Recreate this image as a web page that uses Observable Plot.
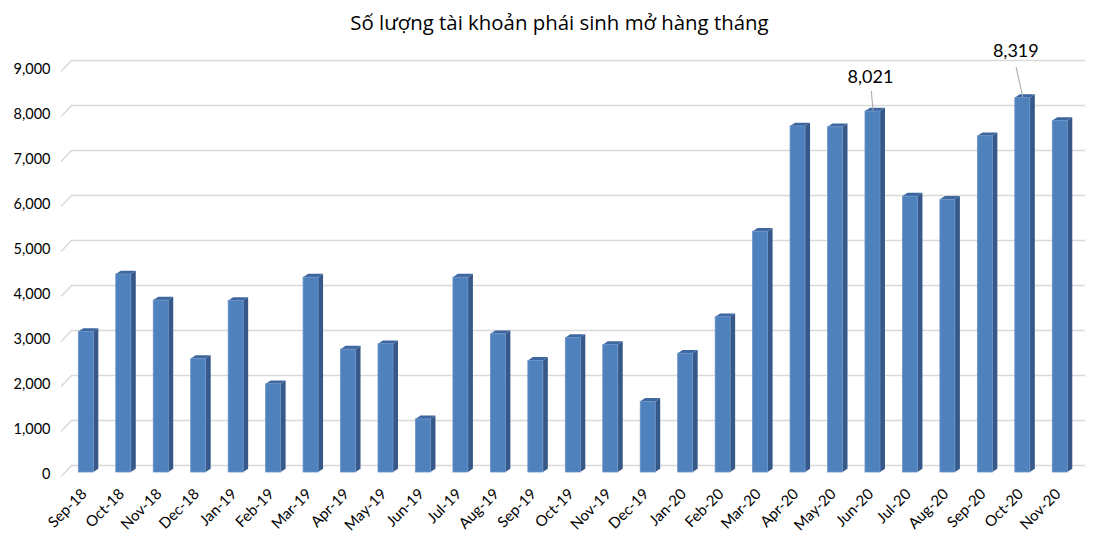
<!DOCTYPE html>
<html>
<head>
<meta charset="utf-8">
<script src="https://cdn.jsdelivr.net/npm/d3@7"></script>
<script src="https://cdn.jsdelivr.net/npm/@observablehq/plot@0.6"></script>
<style>
  html, body { margin: 0; padding: 0; background: #fff; }
  #wrap { width: 1119px; }
  #title { height: 34px; line-height: 44px; text-align: center; font-family: "Open Sans", sans-serif; font-size: 20.4px; color: #000; overflow: visible; white-space: nowrap; }
  svg { display: block; }
</style>
</head>
<body>
<div id="wrap">
  <div id="title">Số lượng tài khoản phái sinh mở hàng tháng</div>
  <div id="chart"></div>
</div>
<script>
const months = ["Sep-18","Oct-18","Nov-18","Dec-18","Jan-19","Feb-19","Mar-19","Apr-19","May-19","Jun-19","Jul-19","Aug-19","Sep-19","Oct-19","Nov-19","Dec-19","Jan-20","Feb-20","Mar-20","Apr-20","May-20","Jun-20","Jul-20","Aug-20","Sep-20","Oct-20","Nov-20"];
const accounts = [3120,4400,3820,2520,3810,1960,4330,2730,2850,1180,4330,3070,2480,2990,2830,1570,2640,3450,5350,7690,7670,8021,6130,6060,7470,8319,7810];
const yTicks = [0,1000,2000,3000,4000,5000,6000,7000,8000,9000];
const labelled = ["Jun-20","Oct-20"];

const data = months.map((m, i) => ({i, month: m, value: accounts[i]}));
const notes = data.filter(d => labelled.includes(d.month));

const HALF = 0.2;          // half bar width in band units
const DEPTH_X = 5;         // px, 3D depth to the right
const DEPTH_Y = 3.3;       // px, 3D depth upward
const skewSide = -Math.atan(DEPTH_Y / DEPTH_X) * 180 / Math.PI;
const skewTop = -Math.atan(DEPTH_X / DEPTH_Y) * 180 / Math.PI;

const lineShape = { draw(ctx, l) { ctx.moveTo(0, 0); ctx.lineTo(0, -l); } };

function skewRectsY(index, scales, values, dims, ctx, next) {
  const g = next(index, scales, values, dims, ctx);
  d3.select(g).selectAll("rect").each(function () {
    const x = +this.getAttribute("x");
    this.setAttribute("transform", `translate(${x},0) skewY(${skewSide}) translate(${-x},0)`);
  });
  return g;
}
function skewRectsX(index, scales, values, dims, ctx, next) {
  const g = next(index, scales, values, dims, ctx);
  d3.select(g).selectAll("rect").each(function () {
    const y = +this.getAttribute("y") + +this.getAttribute("height");
    this.setAttribute("transform", `translate(0,${y}) skewX(${skewTop}) translate(0,${-y})`);
  });
  return g;
}

const bw = 1026.4 / 27.4; // px per band unit

const chart = Plot.plot({
  width: 1119,
  height: 518,
  marginLeft: 59.6,
  marginRight: 33,
  marginTop: 33,
  marginBottom: 80,
  style: { fontFamily: "Lato, sans-serif", fontSize: "13px", color: "#000", background: "#fff" },
  x: { type: "linear", domain: [-0.7, 26.7], axis: null },
  y: { domain: [0, 9000], axis: null },
  length: { type: "identity" },
  marks: [
    // back-wall gridlines
    Plot.ruleY(yTicks, { x1: -0.395, x2: 26.67, dy: -7, stroke: "#d9d9d9", strokeWidth: 1.5 }),
    // floor-edge diagonals
    Plot.vector(yTicks, { x: -0.395, y: d => d, dy: -7, length: 14.5, rotate: 223.6, anchor: "start", shape: lineShape, stroke: "#d9d9d9", strokeWidth: 1.5 }),
    // side faces
    Plot.rect(data, { x1: d => d.i + HALF, x2: d => d.i + HALF + DEPTH_X / bw, y1: 0, y2: "value", fill: "#36598a", render: skewRectsY }),
    // top faces
    Plot.rect(data, { x1: d => d.i - HALF, x2: d => d.i + HALF, y1: "value", y2: "value", insetTop: -DEPTH_Y, fill: "#3d679e", render: skewRectsX }),
    // front faces
    Plot.rect(data, { x1: d => d.i - HALF, x2: d => d.i + HALF, y1: 0, y2: "value", fill: "#4f81bd", stroke: "#6a93c8", strokeWidth: 0.8 }),
    // y axis labels
    Plot.axisY({ ticks: yTicks, tickSize: 0, tickPadding: 9.6, dy: 1.5, tickFormat: d3.format(","), fontSize: 14.5, fill: "#000", label: null }),
    // x axis labels
    Plot.axisX({ ticks: d3.range(months.length), tickFormat: i => months[i], tickRotate: -45, tickSize: 0, tickPadding: 10, dx: -2, dy: 9, fontSize: 15, fill: "#000", label: null }),
    // annotation leader lines
    Plot.vector(notes, { x: "i", y: "value", dy: -1, length: d => d.month === "Jun-20" ? 19.4 : 30.7, rotate: d => d.month === "Jun-20" ? -4.7 : -12.6, anchor: "start", shape: lineShape, stroke: "#a6a6a6", strokeWidth: 1 }),
    // annotation labels
    Plot.text(notes.filter(d => d.month === "Jun-20"), { x: "i", y: "value", text: d => d3.format(",")(d.value), dx: -2.5, dy: -29, fontSize: 18, fill: "#000", lineAnchor: "bottom" }),
    Plot.text(notes.filter(d => d.month === "Oct-20"), { x: "i", y: "value", text: d => d3.format(",")(d.value), dx: -7, dy: -41, fontSize: 18, fill: "#000", lineAnchor: "bottom" })
  ]
});
document.getElementById("chart").appendChild(chart);
</script>
</body>
</html>
